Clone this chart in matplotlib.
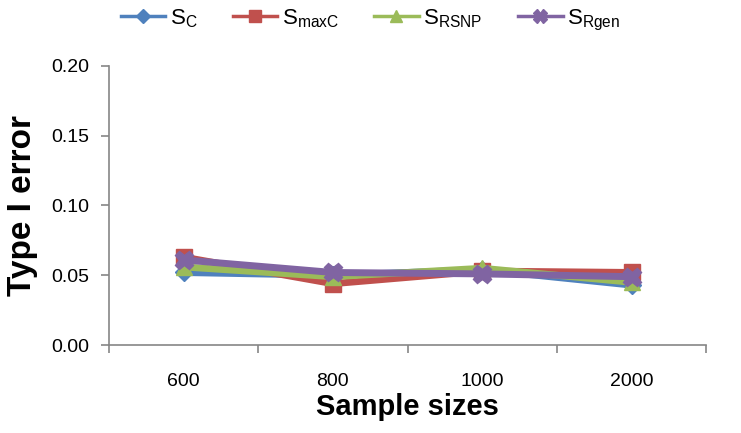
import numpy as np
import matplotlib
matplotlib.use("Agg")
import matplotlib.pyplot as plt
from matplotlib.lines import Line2D

plt.rcParams['font.family'] = ['Liberation Sans', 'DejaVu Sans']
plt.rcParams['mathtext.fontset'] = 'custom'
plt.rcParams['mathtext.rm'] = 'Liberation Sans'

# Data
sample_sizes = ["600", "800", "1000", "2000"]
s_c = [0.052, 0.050, 0.054, 0.043]
s_maxc = [0.063, 0.044, 0.053, 0.052]
s_rsnp = [0.056, 0.049, 0.055, 0.045]
s_rgen = [0.061, 0.052, 0.051, 0.049]

series = [
    (r"S$_\mathregular{C}$", s_c, "#4F81BD", "D", 9),
    (r"S$_\mathregular{maxC}$", s_maxc, "#C0504D", "s", 11),
    (r"S$_\mathregular{RSNP}$", s_rsnp, "#9BBB59", "^", 11),
    (r"S$_\mathregular{Rgen}$", s_rgen, "#8064A2", "X", 13),
]

fig = plt.figure(figsize=(7.41, 4.33), dpi=100)
ax = fig.add_axes([0.147, 0.203, 0.806, 0.645])

x = np.arange(len(sample_sizes))
handles = []
for label, vals, color, marker, ms in series:
    ax.plot(x, vals, color=color, lw=5, marker=marker, markersize=ms,
            markeredgecolor=color, solid_joinstyle="round")
    # thinner line/smaller marker in the legend, like the original
    handles.append(Line2D([], [], color=color, lw=2.5, marker=marker,
                          markersize=ms * 0.75, label=label))

ax.set_xlim(-0.5, len(sample_sizes) - 0.5)
ax.set_ylim(0, 0.20)
ax.set_yticks(np.arange(0, 0.201, 0.05))
ax.set_yticklabels([f"{v:.2f}" for v in np.arange(0, 0.201, 0.05)])

# category labels centered, tick marks between categories
ax.set_xticks(np.arange(-0.5, len(sample_sizes), 1.0))
ax.set_xticklabels([])
ax.set_xticks(x, minor=True)
ax.set_xticklabels(sample_sizes, minor=True)
ax.tick_params(axis="x", which="minor", length=0, pad=20, labelsize=14)
ax.tick_params(axis="x", which="major", length=6, color="#868686", width=1.2)
ax.tick_params(axis="y", length=6, color="#868686", width=1.2, labelsize=14, pad=8)

for side in ["top", "right"]:
    ax.spines[side].set_visible(False)
for side in ["left", "bottom"]:
    ax.spines[side].set_color("#868686")
    ax.spines[side].set_linewidth(1.2)

ax.set_xlabel("Sample sizes", fontsize=21, fontweight="bold", labelpad=2)
ax.set_ylabel("Type I error", fontsize=24, fontweight="bold", labelpad=10)

fig.legend(handles=handles, loc="upper center", bbox_to_anchor=(0.50, 1.03), ncol=4,
           frameon=False, fontsize=16, handlelength=2.0, columnspacing=1.6,
           handletextpad=0.2)

fig.savefig("out.png", dpi=100)
